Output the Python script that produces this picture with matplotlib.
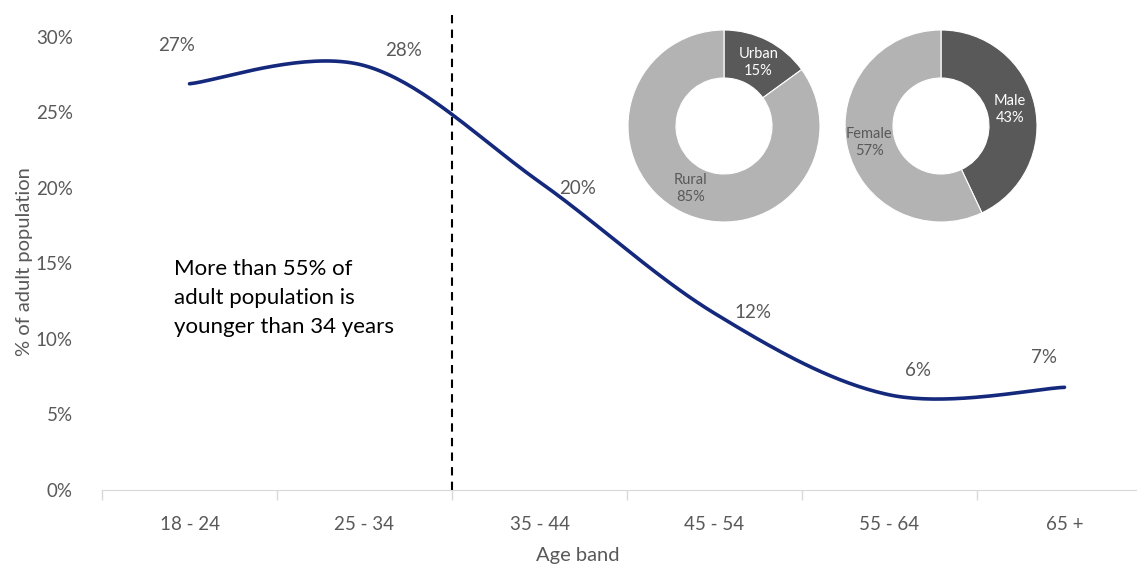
import numpy as np
import matplotlib
matplotlib.use('Agg')
import matplotlib.pyplot as plt

plt.rcParams['font.family'] = ['Lato', 'DejaVu Sans']

age_bands = ['18 - 24', '25 - 34', '35 - 44', '45 - 54', '55 - 64', '65 +']
share = [0.269, 0.281, 0.204, 0.117, 0.063, 0.068]
share_labels = ['27%', '28%', '20%', '12%', '6%', '7%']
yticks = [0, 0.05, 0.10, 0.15, 0.20, 0.25, 0.30]

area_names = ['Urban', 'Rural']
area_share = [15, 85]
sex_names = ['Male', 'Female']
sex_share = [43, 57]

note = 'More than 55% of\nadult population is\nyounger than 34 years'

GREY = '#595959'
LIGHT = '#b3b3b3'
NAVY = '#15297c'


def smooth(x, y, n=40):
    # Catmull-Rom style bezier like the spreadsheet "smoothed line"
    x = np.asarray(x, float)
    y = np.asarray(y, float)
    pts = np.column_stack([x, y])
    out = []
    for i in range(len(pts) - 1):
        p0 = pts[max(i - 1, 0)]
        p1 = pts[i]
        p2 = pts[i + 1]
        p3 = pts[min(i + 2, len(pts) - 1)]
        c1 = p1 + (p2 - p0) / 6
        c2 = p2 - (p3 - p1) / 6
        t = np.linspace(0, 1, n)[:, None]
        seg = ((1 - t) ** 3) * p1 + 3 * ((1 - t) ** 2) * t * c1 + 3 * (1 - t) * t ** 2 * c2 + t ** 3 * p2
        out.append(seg if i == 0 else seg[1:])
    out = np.vstack(out)
    return out[:, 0], out[:, 1]


W, H = 1137, 565
fig = plt.figure(figsize=(W / 100, H / 100), dpi=100)
ax = fig.add_axes([102 / W, (H - 490) / H, 1050 / W, 476 / H])

xs = np.arange(len(age_bands))
sx, sy = smooth(xs, share)
ax.plot(sx, sy, color=NAVY, lw=2.6, solid_capstyle='round')

# data label offsets in pixels (dx, dy) from each point
offsets = [(-13, 38), (39, 15), (38, -7), (38, 1), (29, 24), (-21, 30)]
for xi, yi, lab, (dx, dy) in zip(xs, share, share_labels, offsets):
    ax.annotate(lab, (xi, yi), xytext=(dx * 0.72, dy * 0.72), textcoords='offset points',
                ha='center', va='center', fontsize=13.5, color=GREY)

ax.axvline(1.5, color='black', lw=1.5, ls=(0, (4, 3)))

ax.set_xlim(-0.5, 5.5)
ax.set_ylim(0, 0.3152)
ax.set_yticks(yticks)
ax.set_yticklabels([f'{int(round(v * 100))}%' for v in yticks])
ax.set_xticks(xs)
ax.set_xticklabels(age_bands)
ax.set_xticks(np.arange(-0.5, 6, 1), minor=True)
ax.tick_params(axis='x', which='major', length=0, pad=19, labelsize=13.5, labelcolor=GREY)
ax.tick_params(axis='x', which='minor', length=7, color='#d9d9d9', width=1)
ax.tick_params(axis='y', length=0, pad=21, labelsize=13.5, labelcolor=GREY)
for s in ['top', 'right', 'left']:
    ax.spines[s].set_visible(False)
ax.spines['bottom'].set_color('#d9d9d9')
ax.set_xlabel('Age band', fontsize=14.5, color=GREY)
ax.xaxis.set_label_coords((578 - 102) / 1050, -0.119)
ax.set_ylabel('% of adult population', fontsize=14.5, color=GREY)
ax.yaxis.set_label_coords(-0.066, 0.48)

ax.text(-0.09, 0.153, note, fontsize=16, color='black', ha='left', va='top',
        linespacing=1.55)


def donut(cx, cy, r, vals, names, dark_label_pos, light_label_pos):
    a = fig.add_axes([(cx - r) / W, (H - cy - r) / H, 2 * r / W, 2 * r / H])
    a.pie(vals, colors=[GREY, LIGHT], startangle=90, counterclock=False,
          radius=1, wedgeprops=dict(width=0.5, edgecolor='white', linewidth=0.8))
    a.set_xlim(-1, 1)
    a.set_ylim(-1, 1)
    a.set_aspect('equal')
    a.axis('off')
    a.text(*dark_label_pos, f'{names[0]}\n{vals[0]}%', color='white', fontsize=10.5,
           ha='center', va='center', linespacing=1.3)
    a.text(*light_label_pos, f'{names[1]}\n{vals[1]}%', color=GREY, fontsize=10.5,
           ha='center', va='center', linespacing=1.3)


donut(724, 126, 96, area_share, area_names, (0.36, 0.66), (-0.35, -0.65))
donut(941, 126, 96, sex_share, sex_names, (0.72, 0.17), (-0.75, -0.17))

fig.savefig('out.png', dpi=100)
